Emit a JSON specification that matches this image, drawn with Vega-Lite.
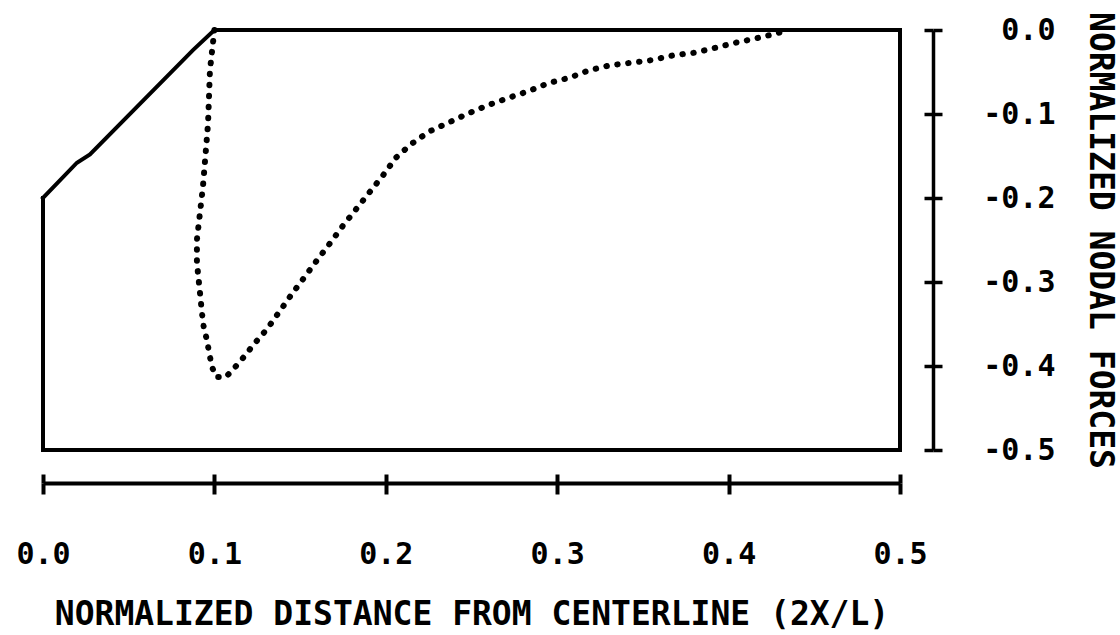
{
  "$schema": "https://vega.github.io/schema/vega-lite/v6.json",
  "width": 857,
  "height": 420,
  "autosize": {"type": "none"},
  "padding": {"left": 43, "top": 30, "right": 220, "bottom": 185},
  "background": "white",
  "config": {
    "view": {"stroke": null},
    "axis": {
      "grid": false,
      "domainColor": "black",
      "tickColor": "black",
      "labelColor": "black",
      "titleColor": "black",
      "labelFont": "DejaVu Sans Mono",
      "titleFont": "DejaVu Sans Mono",
      "labelFontWeight": "bold",
      "titleFontWeight": "bold",
      "labelFlush": false,
      "labelOverlap": false
    }
  },
  "datasets": {
    "solid": [
      {"i": 1, "x": 0.0, "y": -0.2},
      {"i": 2, "x": 0.0198, "y": -0.158},
      {"i": 3, "x": 0.0274, "y": -0.148},
      {"i": 4, "x": 0.0875, "y": -0.024},
      {"i": 5, "x": 0.1, "y": 0.0},
      {"i": 6, "x": 0.5, "y": 0.0},
      {"i": 7, "x": 0.5, "y": -0.5},
      {"i": 8, "x": 0.0, "y": -0.5},
      {"i": 9, "x": 0.0, "y": -0.2}
    ],
    "dotted": [
      {"i": 1, "x": 0.1, "y": 0.0},
      {"i": 2, "x": 0.0974, "y": -0.048},
      {"i": 3, "x": 0.0963, "y": -0.111},
      {"i": 4, "x": 0.0933, "y": -0.187},
      {"i": 5, "x": 0.0898, "y": -0.25},
      {"i": 6, "x": 0.0898, "y": -0.277},
      {"i": 7, "x": 0.0916, "y": -0.313},
      {"i": 8, "x": 0.0928, "y": -0.338},
      {"i": 9, "x": 0.0938, "y": -0.354},
      {"i": 10, "x": 0.0955, "y": -0.368},
      {"i": 11, "x": 0.0974, "y": -0.389},
      {"i": 12, "x": 0.0986, "y": -0.401},
      {"i": 13, "x": 0.1009, "y": -0.413},
      {"i": 14, "x": 0.1068, "y": -0.413},
      {"i": 15, "x": 0.1149, "y": -0.395},
      {"i": 16, "x": 0.1231, "y": -0.374},
      {"i": 17, "x": 0.1307, "y": -0.356},
      {"i": 18, "x": 0.1377, "y": -0.336},
      {"i": 19, "x": 0.1453, "y": -0.314},
      {"i": 20, "x": 0.1523, "y": -0.295},
      {"i": 21, "x": 0.1599, "y": -0.274},
      {"i": 22, "x": 0.1674, "y": -0.254},
      {"i": 23, "x": 0.175, "y": -0.233},
      {"i": 24, "x": 0.1832, "y": -0.212},
      {"i": 25, "x": 0.1902, "y": -0.194},
      {"i": 26, "x": 0.1984, "y": -0.173},
      {"i": 27, "x": 0.2059, "y": -0.152},
      {"i": 28, "x": 0.2147, "y": -0.136},
      {"i": 29, "x": 0.2252, "y": -0.121},
      {"i": 30, "x": 0.2369, "y": -0.11},
      {"i": 31, "x": 0.2474, "y": -0.1},
      {"i": 32, "x": 0.259, "y": -0.09},
      {"i": 33, "x": 0.2713, "y": -0.081},
      {"i": 34, "x": 0.283, "y": -0.073},
      {"i": 35, "x": 0.2952, "y": -0.063},
      {"i": 36, "x": 0.3069, "y": -0.057},
      {"i": 37, "x": 0.3186, "y": -0.048},
      {"i": 38, "x": 0.3308, "y": -0.042},
      {"i": 39, "x": 0.3431, "y": -0.039},
      {"i": 40, "x": 0.3547, "y": -0.036},
      {"i": 41, "x": 0.3681, "y": -0.03},
      {"i": 42, "x": 0.3804, "y": -0.027},
      {"i": 43, "x": 0.3926, "y": -0.021},
      {"i": 44, "x": 0.4043, "y": -0.015},
      {"i": 45, "x": 0.416, "y": -0.01},
      {"i": 46, "x": 0.4282, "y": -0.004},
      {"i": 47, "x": 0.4341, "y": 0.0}
    ]
  },
  "layer": [
    {
      "data": {"name": "solid"},
      "mark": {"type": "line", "color": "black", "strokeWidth": 4, "strokeJoin": "miter", "strokeCap": "square"},
      "encoding": {
        "x": {
          "field": "x", "type": "quantitative",
          "scale": {"domain": [0, 0.5], "nice": false, "zero": false},
          "axis": {
            "orient": "bottom",
            "offset": 33,
            "values": [0, 0.1, 0.2, 0.3, 0.4, 0.5],
            "tickSize": 11,
            "tickWidth": 4,
            "domainWidth": 4,
            "labelExpr": "(datum.value < 0 ? '-' : '') + format(abs(datum.value), '.1f')",
            "labelFontSize": 30,
            "labelBaseline": "middle",
            "labelPadding": 60,
            "title": "NORMALIZED DISTANCE FROM CENTERLINE (2X/L)",
            "titleFontSize": 33,
            "titleBaseline": "middle",
            "titleY": 131
          }
        },
        "y": {
          "field": "y", "type": "quantitative",
          "scale": {"domain": [-0.5, 0], "nice": false, "zero": false},
          "axis": {
            "orient": "right",
            "offset": 33,
            "values": [0, -0.1, -0.2, -0.3, -0.4, -0.5],
            "tickSize": 9,
            "tickWidth": 3.5,
            "domainWidth": 3.5,
            "labelExpr": "(datum.value < 0 ? '-' : '') + format(abs(datum.value), '.1f')",
            "labelFontSize": 30,
            "labelAlign": "right",
            "labelBaseline": "middle",
            "labelPadding": 113,
            "title": "NORMALIZED NODAL FORCES",
            "titleFontSize": 33,
            "titleAngle": 90,
            "titleAlign": "center",
            "titleBaseline": "middle",
            "titleX": 166,
            "titleY": 210
          }
        },
        "order": {"field": "i", "type": "quantitative"}
      }
    },
    {
      "data": {"name": "dotted"},
      "mark": {"type": "line", "color": "black", "strokeWidth": 6, "strokeCap": "round", "strokeDash": [0.5, 10.5]},
      "encoding": {
        "x": {
          "field": "x", "type": "quantitative",
          "axis": {
            "orient": "bottom",
            "offset": 33,
            "values": [0, 0.1, 0.2, 0.3, 0.4, 0.5],
            "tickSize": -9,
            "tickWidth": 4,
            "domain": false,
            "labels": false,
            "title": null
          }
        },
        "y": {
          "field": "y", "type": "quantitative",
          "axis": {
            "orient": "right",
            "offset": 33,
            "values": [0, -0.1, -0.2, -0.3, -0.4, -0.5],
            "tickSize": -9,
            "tickWidth": 3.5,
            "domain": false,
            "labels": false,
            "title": null
          }
        },
        "order": {"field": "i", "type": "quantitative"}
      }
    }
  ],
  "resolve": {"axis": {"x": "independent", "y": "independent"}}
}
